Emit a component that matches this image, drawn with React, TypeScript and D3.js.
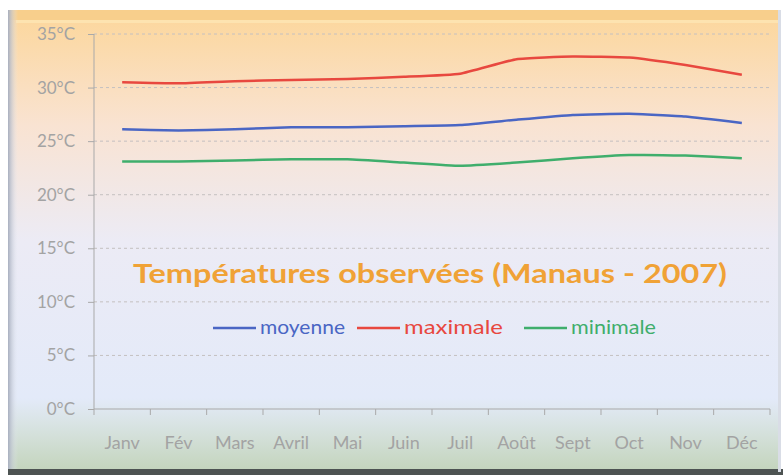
import React from "react";
import * as d3 from "d3";

const months = ["Janv", "Fév", "Mars", "Avril", "Mai", "Juin", "Juil", "Août", "Sept", "Oct", "Nov", "Déc"];
const moyenne = [26.1, 26.0, 26.1, 26.3, 26.3, 26.4, 26.5, 27.0, 27.45, 27.55, 27.3, 26.7];
const maximale = [30.5, 30.4, 30.6, 30.7, 30.8, 31.0, 31.3, 32.65, 32.9, 32.8, 32.1, 31.2];
const minimale = [23.1, 23.1, 23.2, 23.3, 23.3, 23.0, 22.7, 23.0, 23.4, 23.7, 23.65, 23.4];
const yTicks = [0, 5, 10, 15, 20, 25, 30, 35];

const series = [
  { name: "moyenne", values: moyenne, color: "#4a66c4" },
  { name: "maximale", values: maximale, color: "#e8483f" },
  { name: "minimale", values: minimale, color: "#3fae6c" },
];

const W = 783;
const H = 475;
const FONT = "Lato, 'Open Sans', sans-serif";

export default function App() {
  const svgRef = React.useRef<SVGSVGElement>(null);

  React.useEffect(() => {
    const svg = d3.select(svgRef.current);
    svg.selectAll("*").remove();

    const x = d3.scaleBand().domain(months).range([94, 770]);
    const y = d3.scaleLinear().domain([0, 35]).range([409, 34]);

    // background
    const defs = svg.append("defs");
    const bg = defs.append("linearGradient").attr("id", "bg").attr("x1", 0).attr("x2", 0).attr("y1", 0).attr("y2", 1);
    [
      ["0%", "#fcd69a"],
      ["25%", "#f9e3d2"],
      ["50%", "#ecebf5"],
      ["84%", "#e3eaf9"],
      ["90%", "#d8e3e2"],
      ["100%", "#c3d4bb"],
    ].forEach(([o, c]) => bg.append("stop").attr("offset", o).attr("stop-color", c));
    const lb = defs.append("linearGradient").attr("id", "lb").attr("x1", 0).attr("x2", 1).attr("y1", 0).attr("y2", 0);
    lb.append("stop").attr("offset", "0%").attr("stop-color", "#a8afbf");
    lb.append("stop").attr("offset", "100%").attr("stop-color", "#e6eaf2").attr("stop-opacity", 0);

    svg.append("rect").attr("width", W).attr("height", H).attr("fill", "#ffffff");
    svg.append("rect").attr("x", 8).attr("y", 10).attr("width", 772).attr("height", 462).attr("fill", "url(#bg)");
    svg.append("rect").attr("x", 8).attr("y", 10).attr("width", 772).attr("height", 10).attr("fill", "#f8cf8c");
    svg.append("rect").attr("x", 16).attr("y", 20).attr("width", 764).attr("height", 3).attr("fill", "#fde3b0");
    svg.append("rect").attr("x", 8).attr("y", 10).attr("width", 10).attr("height", 462).attr("fill", "url(#lb)");
    svg.append("rect").attr("x", 8).attr("y", 469).attr("width", 775).attr("height", 6).attr("fill", "#4d5352");
    svg.append("rect").attr("x", 778).attr("y", 10).attr("width", 3).attr("height", 462).attr("fill", "#d9dde6");

    // grid
    svg.append("g")
      .selectAll("line")
      .data(yTicks.filter((d) => d > 0))
      .join("line")
      .attr("x1", 94)
      .attr("x2", 770)
      .attr("y1", (d) => y(d))
      .attr("y2", (d) => y(d))
      .attr("stroke", "#c4c0c0")
      .attr("stroke-width", 1)
      .attr("stroke-dasharray", "3,3");

    // y axis
    const yAxis = svg.append("g").attr("transform", "translate(94,0)")
      .call(d3.axisLeft(y).tickValues(yTicks).tickSize(6).tickPadding(13).tickFormat((d) => `${d}°C`));
    yAxis.select(".domain").attr("stroke", "#a9a9a9").attr("d", `M0,${y(35)}V${y(0)}`);
    yAxis.selectAll("line").attr("stroke", "#a9a9a9");
    yAxis.selectAll("text").attr("fill", "#a3a3a3").attr("font-size", 17).attr("font-family", FONT);

    // x axis
    const boundaries = d3.range(months.length + 1).map((i) => 94 + i * x.bandwidth());
    const xg = svg.append("g");
    xg.append("line").attr("x1", 94).attr("x2", 770).attr("y1", 409).attr("y2", 409).attr("stroke", "#a9a9a9");
    xg.selectAll("line.t").data(boundaries).join("line").attr("class", "t")
      .attr("x1", (d) => d).attr("x2", (d) => d).attr("y1", 409).attr("y2", 415).attr("stroke", "#a9a9a9");
    xg.selectAll("text").data(months).join("text")
      .attr("x", (d) => (x(d) as number) + x.bandwidth() / 2)
      .attr("y", 449)
      .attr("text-anchor", "middle")
      .attr("fill", "#a3a3a3")
      .attr("font-size", 18)
      .attr("font-family", FONT)
      .text((d) => d);

    // lines
    const line = d3.line<number>()
      .x((_, i) => (x(months[i]) as number) + x.bandwidth() / 2)
      .y((d) => y(d))
      .curve(d3.curveCardinal.tension(0.6));
    series.forEach((s) => {
      svg.append("path").attr("d", line(s.values)).attr("fill", "none")
        .attr("stroke", s.color).attr("stroke-width", 2.5);
    });

    // title
    svg.append("text")
      .attr("x", 430).attr("y", 283)
      .attr("text-anchor", "middle")
      .attr("fill", "#f0a236")
      .attr("font-size", 27)
      .attr("font-weight", "bold")
      .attr("font-family", FONT)
      .attr("textLength", 594)
      .attr("lengthAdjust", "spacingAndGlyphs")
      .text("Températures observées (Manaus - 2007)");

    // legend
    const legX = [213, 357, 524];
    const legW = [85, 99, 85];
    series.forEach((s, i) => {
      const g = svg.append("g").attr("transform", `translate(${legX[i]},328)`);
      g.append("line").attr("x1", 0).attr("x2", 43).attr("stroke", s.color).attr("stroke-width", 2.5);
      g.append("text").attr("x", 47).attr("y", 6).attr("fill", s.color)
        .attr("font-size", 19).attr("font-family", FONT)
        .attr("textLength", legW[i]).attr("lengthAdjust", "spacingAndGlyphs")
        .text(s.name);
    });
  }, []);

  return <svg ref={svgRef} width={W} height={H} style={{ position: "fixed", left: 0, top: 0 }} />;
}
